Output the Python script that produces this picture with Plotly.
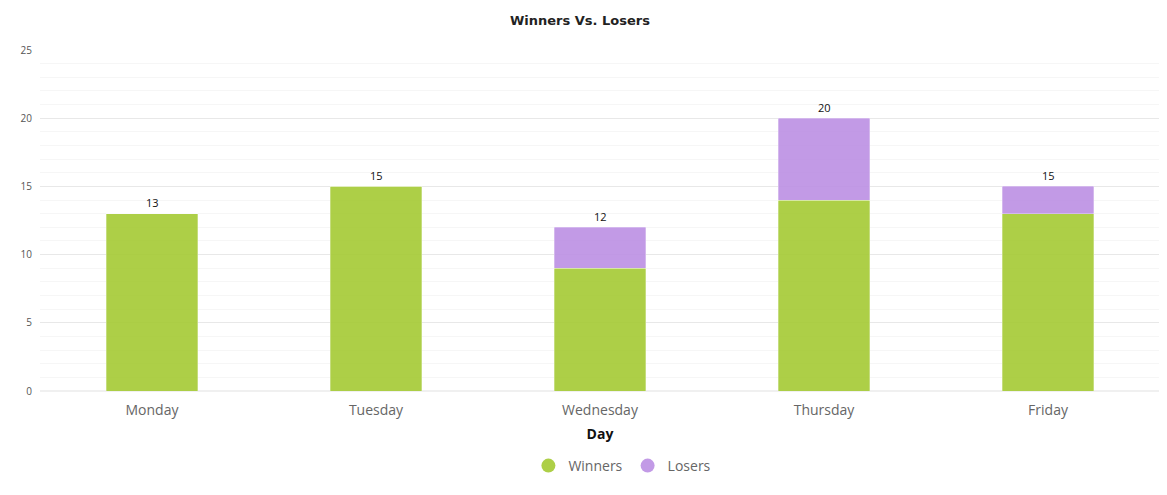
import plotly.graph_objects as go

days = ["Monday", "Tuesday", "Wednesday", "Thursday", "Friday"]
winners = [13, 15, 9, 14, 13]
losers = [0, 0, 3, 6, 2]
totals = [w + l for w, l in zip(winners, losers)]

GREEN = "rgba(162,200,46,0.88)"
PURPLE = "rgba(186,140,226,0.88)"
FONT = "Open Sans, Arial, sans-serif"

fig = go.Figure()

fig.add_trace(go.Bar(
    x=days, y=winners, name="Winners", showlegend=False,
    marker=dict(color=GREEN, line=dict(color="rgba(255,255,255,0.5)", width=0.6)),
    hoverinfo="x+y+name",
))
fig.add_trace(go.Bar(
    x=days, y=losers, name="Losers", showlegend=False,
    marker=dict(color=PURPLE, line=dict(color="rgba(255,255,255,0.5)", width=0.6)),
    hoverinfo="x+y+name",
))

# circle legend entries
for name, col in [("Winners", GREEN), ("Losers", PURPLE)]:
    fig.add_trace(go.Scatter(
        x=[None], y=[None], mode="markers", name=name,
        marker=dict(symbol="circle", size=14, color=col),
    ))

# total labels above each stack
for d, t in zip(days, totals):
    fig.add_annotation(x=d, y=t, text=str(t), showarrow=False, yshift=11,
                       yanchor="middle", font=dict(size=11, color="#111", family=FONT))

# the page body has an 8px margin, so the figure is sized/offset to fit the window
fig.update_layout(
    barmode="stack",
    bargap=0.59,
    width=1152, height=479,
    margin=dict(l=32, r=0, t=42, b=96, autoexpand=False),
    paper_bgcolor="white", plot_bgcolor="white",
    font=dict(family=FONT, color="#666"),
    title=dict(text="<b>Winners Vs. Losers</b>", x=0.4965, xanchor="center",
               y=1 - 12 / 479, yanchor="middle",
               font=dict(size=13, color="#222", family="DejaVu Sans, Verdana, sans-serif")),
    legend=dict(orientation="h", x=0.52, xanchor="center", y=-0.22, yanchor="middle",
                font=dict(size=14, color="#666"), itemwidth=30, traceorder="normal"),
    xaxis=dict(
        tickfont=dict(size=14, color="#666"), automargin=False,
        title=dict(text="<b>Day</b>", font=dict(size=14, color="#111"), standoff=11),
        showgrid=False, showline=False, ticks="", ticklabelstandoff=9,
    ),
    yaxis=dict(
        range=[0, 25], dtick=5, tickfont=dict(size=10, color="#555"), automargin=False,
        gridcolor="#e8e8e8", gridwidth=1, zeroline=True, zerolinecolor="#f0f0f0",
        minor=dict(dtick=1, showgrid=True, gridcolor="#f6f6f6"),
        ticks="", ticklabelstandoff=7, fixedrange=True,
    ),
)

fig.write_html("out.html")
